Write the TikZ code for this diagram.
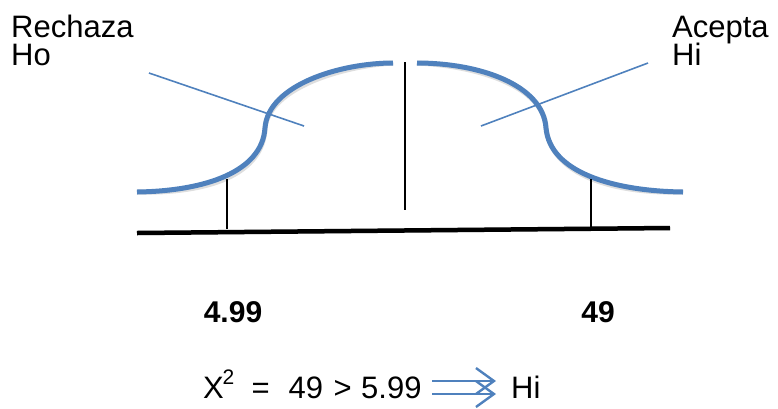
\documentclass[tikz,border=0pt]{standalone}
\usepackage{fontspec}
\setmainfont{Liberation Sans}
\usetikzlibrary{arrows.meta}
\definecolor{curveblue}{HTML}{4F81BD}
\tikzset{
  curve/.style={draw=curveblue,line width=5pt},
  shadowc/.style={draw=black!13,line width=5pt},
  thinblue/.style={draw=curveblue,line width=1.6pt},
  tick/.style={draw=black,line width=1.5pt},
  base/.style={draw=black,line width=4.5pt},
  lbl/.style={inner sep=0pt,anchor=base west,font=\fontsize{31}{31}\selectfont},
  suplbl/.style={inner sep=0pt,anchor=base west,font=\fontsize{21}{21}\selectfont},
  num/.style={inner sep=0pt,anchor=base,font=\fontsize{30}{30}\selectfont\bfseries},
  dblarrow/.style={draw=curveblue,line width=2.4pt,-{Straight Barb[length=18pt,width=26pt,line width=2.4pt]}}
}
\begin{document}
\begin{tikzpicture}[x=1pt,y=-1pt]
\useasboundingbox (0,0) rectangle (778,408);
% coordinates
\coordinate (L0) at (137,192);
\coordinate (Lm) at (265,128);
\coordinate (L1) at (393,63);
\coordinate (R0) at (417,63);
\coordinate (Rm) at (546,128);
\coordinate (R1) at (683,192);
\coordinate (B0) at (137,233);
\coordinate (B1) at (670,228);
% shadows
\begin{scope}[shift={(1.5,3)}]
\draw[shadowc] (L0) .. controls (205,191) and (262,172) .. (Lm) .. controls (268,85) and (340,63) .. (L1);
\draw[shadowc] (R0) .. controls (480,63) and (543,85) .. (Rm) .. controls (550,172) and (612,191) .. (R1);
\draw[base,draw=black!13] (B0) -- (B1);
\end{scope}
% main curves
\draw[curve] (L0) .. controls (205,191) and (262,172) .. (Lm) .. controls (268,85) and (340,63) .. (L1);
\draw[curve] (R0) .. controls (480,63) and (543,85) .. (Rm) .. controls (550,172) and (612,191) .. (R1);
% base line and ticks
\draw[base] (B0) -- (B1);
\coordinate (TL0) at (227,179);
\coordinate (TL1) at (227,229);
\coordinate (TR0) at (591,179);
\coordinate (TR1) at (591,227);
\coordinate (C0) at (405,62);
\coordinate (C1) at (405,210);
\draw[tick] (TL0) -- (TL1);
\draw[tick] (TR0) -- (TR1);
\draw[tick] (C0) -- (C1);
% thin blue pointers
\coordinate (PL0) at (149,73);
\coordinate (PL1) at (304,126);
\coordinate (PR0) at (481,126);
\coordinate (PR1) at (648,63);
\draw[thinblue] (PL0) -- (PL1);
\draw[thinblue] (PR0) -- (PR1);
% labels
\node[lbl] (rech) at (11,37) {Rechaza};
\node[lbl] (ho) at (11,65) {Ho};
\node[lbl] (acep) at (672,37) {Acepta};
\node[lbl] (hi) at (672,65) {Hi};
\node[num] (n1) at (233,322) {4.99};
\node[num] (n2) at (598,322) {49};
% formula
\node[lbl] (fx) at (203,398) {X};
\node[suplbl] (fsup) at (222.5,384) {2};
\node[lbl] (feq) at (251.5,398) {=};
\node[lbl] (f49) at (288.5,398) {49};
\node[lbl] (fgt) at (333.5,398) {>};
\node[lbl] (f599) at (361,398) {5.99};
\node[lbl] (res) at (511,398) {Hi};
\coordinate (A0) at (432,381);
\coordinate (A1) at (496,381);
\coordinate (A2) at (432,394);
\coordinate (A3) at (496,394);
\draw[dblarrow] (A0) -- (A1);
\draw[dblarrow] (A2) -- (A3);
\end{tikzpicture}
\end{document}
